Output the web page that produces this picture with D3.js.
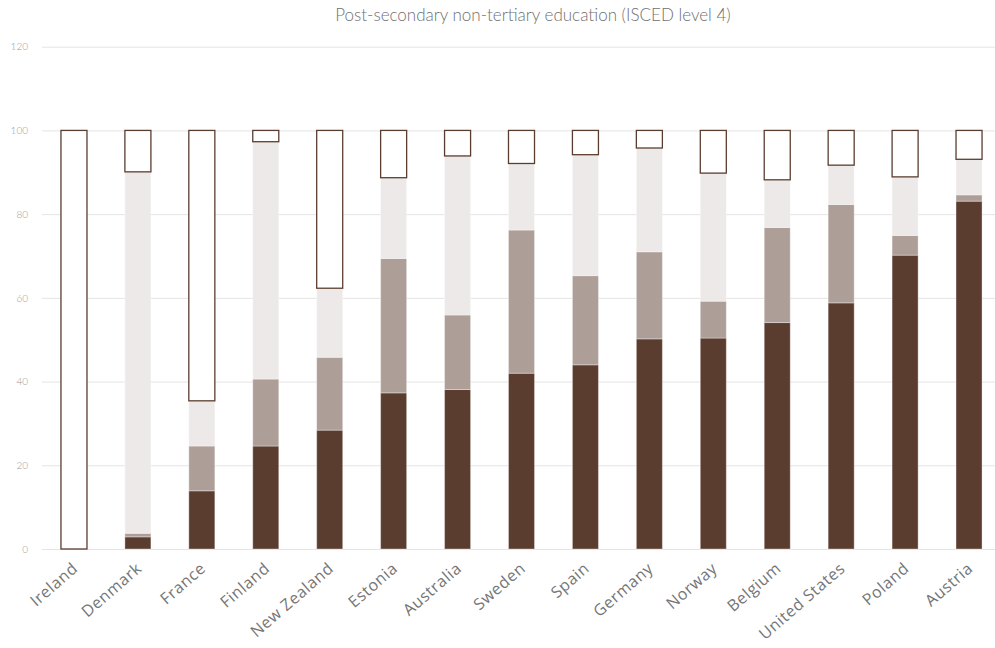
<!DOCTYPE html>
<html>
<head>
<meta charset="utf-8">
<script src="https://cdn.jsdelivr.net/npm/d3@7"></script>
<style>
  html, body { margin: 0; padding: 0; background: #fff; }
  svg { display: block; }
</style>
</head>
<body>
<svg id="chart" width="995" height="648"></svg>
<script>
// Countries, ordered by the share in the darkest segment
const countries = ["Ireland", "Denmark", "France", "Finland", "New Zealand", "Estonia",
  "Australia", "Sweden", "Spain", "Germany", "Norway", "Belgium", "United States",
  "Poland", "Austria"];

// Stacked segments (percent), bottom to top
const darkShare  = [0, 2.9, 13.9, 24.6, 28.4, 37.3, 38.1, 42.0, 44.0, 50.2, 50.4, 54.1, 58.8, 70.2, 83.1];
const midShare   = [0, 0.85, 10.7, 16.0, 17.4, 32.1, 17.8, 34.2, 21.3, 20.8, 8.8, 22.7, 23.5, 4.7, 1.5];
const lightShare = [0, 86.35, 10.8, 56.7, 16.5, 19.3, 38.0, 15.9, 28.9, 24.8, 30.6, 11.4, 9.4, 14.0, 8.5];
const openShare  = [100, 9.9, 64.6, 2.7, 37.7, 11.3, 6.1, 7.9, 5.8, 4.2, 10.2, 11.8, 8.3, 11.1, 6.9];

const yTicks = [0, 20, 40, 60, 80, 100, 120];
const title = "Post-secondary non-tertiary education (ISCED level 4)";

const seriesKeys = ["dark", "mid", "light", "open"];
const rows = countries.map((c, i) => ({
  country: c, dark: darkShare[i], mid: midShare[i], light: lightShare[i], open: openShare[i]
}));

const svg = d3.select("#chart");
const W = 995, H = 648;
const plot = { left: 42, right: 1001, top: 46.7, bottom: 549 };

const x = d3.scaleBand()
  .domain(countries)
  .range([plot.left, plot.right])
  .paddingInner(0.593)
  .paddingOuter(0.2965);

const y = d3.scaleLinear().domain([0, 120]).range([plot.bottom, plot.top]);

// Title
svg.append("text")
  .attr("x", 533)
  .attr("y", 21)
  .attr("text-anchor", "middle")
  .attr("font-family", "Lato, 'Open Sans', sans-serif")
  .attr("font-weight", 300)
  .attr("font-size", 17)
  .attr("fill", "#707070")
  .text(title);

// Horizontal gridlines
svg.append("g").selectAll("line")
  .data(yTicks)
  .join("line")
  .attr("x1", plot.left)
  .attr("x2", W)
  .attr("y1", d => y(d) + 0.5)
  .attr("y2", d => y(d) + 0.5)
  .attr("stroke", "#e4e4e4")
  .attr("stroke-width", 1);

// Y axis labels
const yAxis = d3.axisLeft(y).tickValues(yTicks).tickSize(0).tickPadding(0);
const yg = svg.append("g")
  .attr("transform", `translate(${plot.left - 14},0)`)
  .call(yAxis);
yg.select(".domain").remove();
yg.selectAll("text")
  .attr("font-family", "Lato, sans-serif")
  .attr("font-weight", 300)
  .attr("font-size", 10)
  .attr("fill", "#9a9a9a");

// Stacked bars
const stack = d3.stack().keys(seriesKeys);
const layers = stack(rows);
const fills = { dark: "#5b3d30", mid: "#ad9e97", light: "#ede9e8", open: "#ffffff" };

svg.append("g").selectAll("g")
  .data(layers)
  .join("g")
  .each(function(layer) {
    const key = layer.key;
    d3.select(this).selectAll("rect")
      .data(layer.filter(d => d[1] - d[0] > 0))
      .join("rect")
      .attr("x", d => x(d.data.country))
      .attr("width", x.bandwidth())
      .attr("y", d => y(d[1]))
      .attr("height", d => y(d[0]) - y(d[1]))
      .attr("fill", fills[key])
      .attr("stroke", key === "open" ? "#5b3d30" : "rgba(255,255,255,0.35)")
      .attr("stroke-width", key === "open" ? 1.3 : 1);
  });

// X axis labels, rotated
const xg = svg.append("g");
xg.selectAll("text")
  .data(countries)
  .join("text")
  .attr("text-anchor", "end")
  .attr("transform", d => `translate(${x(d) + x.bandwidth() / 2 + 5},${plot.bottom + 21}) rotate(-41)`)
  .attr("font-family", "'Open Sans', sans-serif")
  .attr("font-size", 16)
  .attr("letter-spacing", 0.6)
  .attr("fill", "#757575")
  .text(d => d);
</script>
</body>
</html>
